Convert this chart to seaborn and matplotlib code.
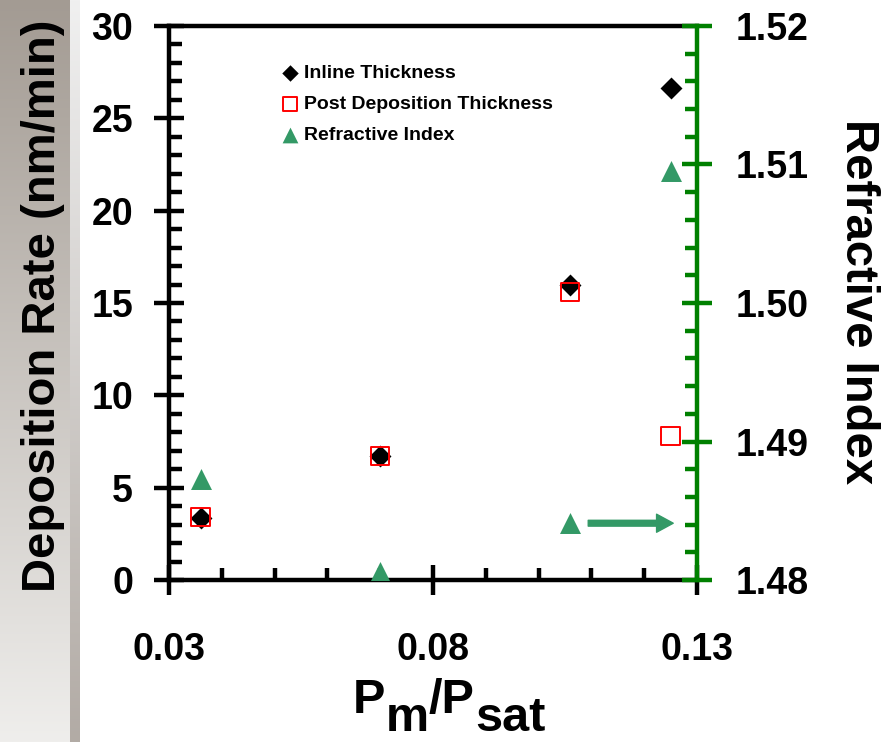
import numpy as np
import pandas as pd
import matplotlib
matplotlib.use("Agg")
import matplotlib.pyplot as plt
from matplotlib.ticker import MultipleLocator, FixedLocator, FormatStrFormatter
import seaborn as sns

# datos
pm_psat = [0.036, 0.070, 0.106, 0.125]
inline_thick = [3.36, 6.70, 16.0, 26.65]
post_thick = [3.40, 6.70, 15.6, 7.8]
refr_index = [1.4873, 1.4806, 1.4841, 1.5095]
x_ticks = [0.03, 0.08, 0.13]

df = pd.DataFrame({"PmPsat": pm_psat, "Inline": inline_thick,
                   "Post": post_thick, "RI": refr_index})

sns.set_style("ticks")
plt.rcParams["font.family"] = ["Liberation Sans", "DejaVu Sans"]
plt.rcParams["font.weight"] = "bold"
plt.rcParams["axes.labelweight"] = "bold"
plt.rcParams["text.color"] = "black"
plt.rcParams["xtick.labelcolor"] = "black"
plt.rcParams["ytick.labelcolor"] = "black"

fig = plt.figure(figsize=(8.84, 7.42), dpi=100)

# franja de fondo a la izquierda (degradado gris)
bg = fig.add_axes([0, 0, 70 / 884, 1], zorder=-5)
top_c = np.array([163, 155, 147]) / 255
bot_c = np.array([239, 238, 236]) / 255
t = np.linspace(0, 1, 256)[:, None]
bg.imshow((top_c * (1 - t) + bot_c * t)[:, None, :].repeat(2, axis=1), aspect="auto")
bg.axis("off")
strip = fig.add_axes([70 / 884, 0, 10 / 884, 1], zorder=-5)
s_top = np.array([240, 240, 240]) / 255
s_bot = np.array([178, 171, 165]) / 255
strip.imshow((s_top * (1 - t) + s_bot * t)[:, None, :].repeat(2, axis=1), aspect="auto")
strip.axis("off")

ax = fig.add_axes([169 / 884, 162 / 742, 528 / 884, 554 / 742])
ax2 = ax.twinx()

sns.scatterplot(data=df, x="PmPsat", y="Inline", ax=ax, marker="D", s=125,
                color="black", edgecolor="black", linewidth=0,
                label="Inline Thickness", zorder=3)
sns.scatterplot(data=df, x="PmPsat", y="Post", ax=ax, marker="s", s=175,
                color="none", edgecolor="red", linewidth=1.4,
                label="Post Deposition Thickness", zorder=4)
sns.scatterplot(data=df, x="PmPsat", y="RI", ax=ax2, marker="^", s=228,
                color="#339966", edgecolor="#339966", linewidth=0,
                label="Refractive Index", zorder=3)

for a in (ax, ax2):
    if a.get_legend() is not None:
        a.get_legend().remove()

# flecha hacia el eje derecho
ax2.annotate("", xy=(0.1255, 1.4841), xytext=(0.1094, 1.4841),
             arrowprops=dict(width=4.2, headwidth=13, headlength=12,
                             color="#339966", shrink=0))

ax.set_xlim(0.03, 0.13)
ax.set_ylim(0, 30)
ax2.set_ylim(1.48, 1.52)
ax.xaxis.set_major_locator(FixedLocator(x_ticks))
ax.xaxis.set_minor_locator(MultipleLocator(0.01))
ax.xaxis.set_major_formatter(FormatStrFormatter("%.2f"))
ax.yaxis.set_major_locator(MultipleLocator(5))
ax.yaxis.set_minor_locator(MultipleLocator(1))
ax2.yaxis.set_major_locator(MultipleLocator(0.01))
ax2.yaxis.set_minor_locator(MultipleLocator(0.002))
ax2.yaxis.set_major_formatter(FormatStrFormatter("%.2f"))

ax.set_xlabel("")
ax.set_ylabel("")
ax2.set_ylabel("")

lw = 3.2
green = "#008000"
ax.spines["right"].set_visible(False)
for sp in ("left", "top", "bottom"):
    ax.spines[sp].set_linewidth(lw)
    ax.spines[sp].set_color("black")
for sp in ("left", "top", "bottom"):
    ax2.spines[sp].set_visible(False)
ax2.spines["right"].set_linewidth(lw)
ax2.spines["right"].set_color(green)

ax.tick_params(which="major", direction="inout", length=21, width=lw,
               labelsize=27, color="black", labelcolor="black")
ax.tick_params(which="minor", direction="in", length=9, width=lw, color="black")
ax.tick_params(axis="x", which="major", pad=27)
ax.tick_params(axis="y", which="major", pad=15.5)
ax.tick_params(which="both", top=False, right=False)
ax2.tick_params(axis="y", which="major", direction="inout", length=21, width=lw,
                labelsize=27, color=green, labelcolor="black", pad=17)
ax2.tick_params(axis="y", which="minor", direction="in", length=9, width=lw,
                color=green)

h1, l1 = ax.get_legend_handles_labels()
h2, l2 = ax2.get_legend_handles_labels()
ax2.legend(h1 + h2, l1 + l2, loc="upper left", bbox_to_anchor=(0.214, 0.931),
           frameon=False, prop={"size": 14, "weight": "bold"}, markerscale=0.75,
           handlelength=0.8, handletextpad=0.35, labelspacing=0.7,
           borderpad=0, borderaxespad=0)

# titulos de ejes
fig.text(43 / 884, (742 - 306) / 742, "Deposition Rate (nm/min)", rotation=90,
         ha="center", va="center", fontsize=34, fontweight="bold")
fig.text(858 / 884, (742 - 302) / 742, "Refractive Index", rotation=270,
         ha="center", va="center", fontsize=34, fontweight="bold")

# P_m/P_sat con subindices del mismo tamano
fs = 35
t1 = ax.annotate("P", xy=(353 / 884, (742 - 713) / 742), xycoords="figure fraction",
                 ha="left", va="baseline", fontsize=fs, fontweight="bold",
                 annotation_clip=False)
t2 = ax.annotate("m", xy=(1, 0), xycoords=t1, xytext=(0, -13),
                 textcoords="offset points", ha="left", va="bottom",
                 fontsize=fs, fontweight="bold", annotation_clip=False)
t3 = ax.annotate("/P", xy=(1, 0), xycoords=t2, xytext=(0, 13),
                 textcoords="offset points", ha="left", va="bottom",
                 fontsize=fs, fontweight="bold", annotation_clip=False)
t4 = ax.annotate("sat", xy=(1, 0), xycoords=t3, xytext=(1, -13),
                 textcoords="offset points", ha="left", va="bottom",
                 fontsize=fs, fontweight="bold", annotation_clip=False)

plt.savefig("out.png", dpi=100)
